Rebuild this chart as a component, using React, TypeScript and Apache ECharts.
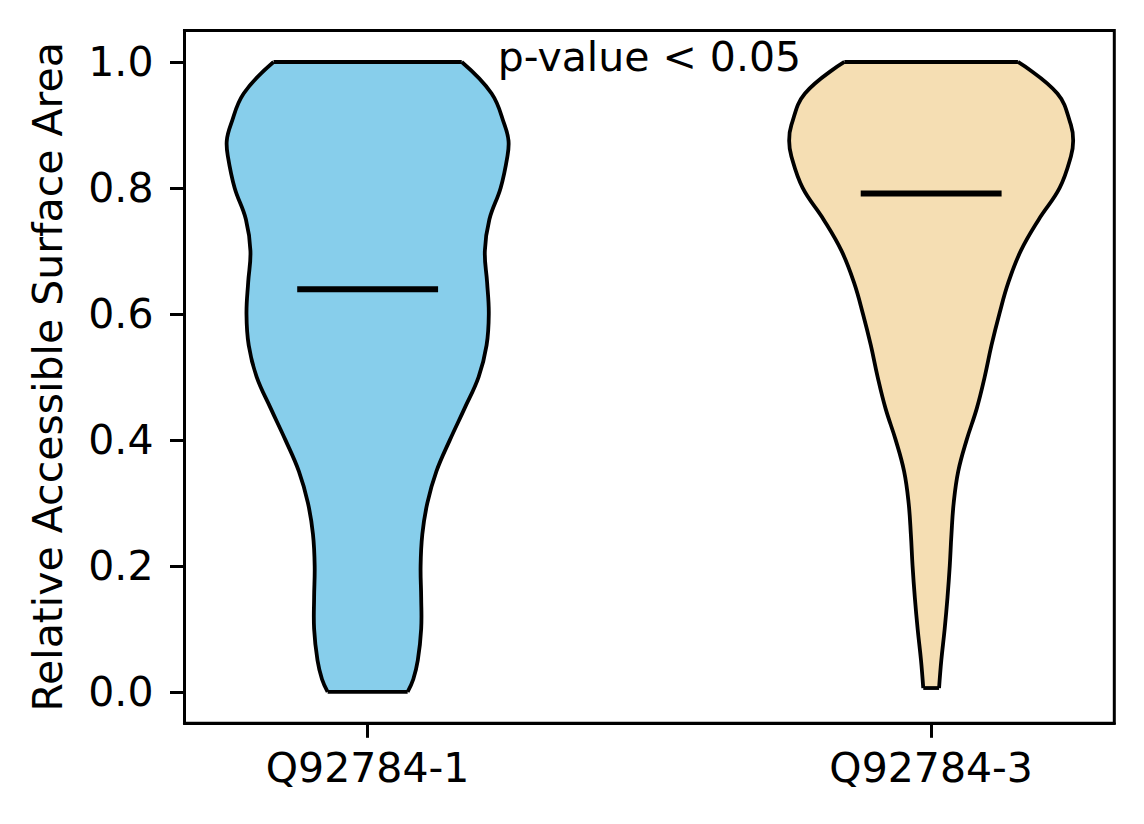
import React, { useEffect, useRef } from 'react';
import * as echarts from 'echarts';

// categories and summary values
const categories = ['Q92784-1', 'Q92784-3'];
const positions = [1, 2];
const fillColors = ['#87CEEB', '#F5DEB3'];
const medians = [0.639, 0.791];
const yTicks = [0, 0.2, 0.4, 0.6, 0.8, 1.0];
const pText = 'p-value < 0.05';

// violin outlines: RSA level -> half width (x-axis units)
const leftLevels = [0.0, 0.02, 0.05, 0.1, 0.15, 0.2, 0.25, 0.3, 0.35, 0.4, 0.45, 0.5, 0.55, 0.6, 0.65, 0.7, 0.75, 0.8, 0.85, 0.875, 0.9, 0.95, 1.0];
const leftHalfWidths = [0.071, 0.081, 0.089, 0.095, 0.095, 0.094, 0.097, 0.106, 0.122, 0.146, 0.172, 0.197, 0.211, 0.215, 0.212, 0.208, 0.216, 0.236, 0.248, 0.25, 0.243, 0.22, 0.167];

const rightLevels = [0.006, 0.05, 0.1, 0.15, 0.2, 0.25, 0.3, 0.35, 0.4, 0.45, 0.5, 0.55, 0.6, 0.65, 0.7, 0.75, 0.8, 0.85, 0.875, 0.9, 0.95, 1.0];
const rightHalfWidths = [0.014, 0.018, 0.024, 0.029, 0.033, 0.036, 0.04, 0.048, 0.063, 0.081, 0.095, 0.107, 0.121, 0.137, 0.159, 0.191, 0.228, 0.248, 0.252, 0.248, 0.224, 0.154];

const violins = [
  { levels: leftLevels, half: leftHalfWidths },
  { levels: rightLevels, half: rightHalfWidths },
];

const FONT = '"DejaVu Sans", sans-serif';
const FS = 41;
const LW = 3.0;
const EDGE = 3.8;

const App: React.FC = () => {
  const chartRef = useRef<HTMLDivElement>(null);

  useEffect(() => {
    if (!chartRef.current) return;
    const chart = echarts.init(chartRef.current, null, { renderer: 'svg' });

    const violinSeries = violins.map((v, idx) => ({
      type: 'custom',
      coordinateSystem: 'cartesian2d',
      clip: false,
      silent: true,
      data: [[positions[idx], medians[idx]]],
      renderItem: (_params: any, api: any) => {
        const pos = positions[idx];
        const leftSide = v.levels.map((y, i) => api.coord([pos - v.half[i], y]));
        const rightSide = v.levels.map((y, i) => api.coord([pos + v.half[i], y]));
        const outline = leftSide.concat(rightSide.slice().reverse());
        const n = v.levels.length - 1;
        const m0 = api.coord([pos - 0.125, medians[idx]]);
        const m1 = api.coord([pos + 0.125, medians[idx]]);
        return {
          type: 'group',
          children: [
            { type: 'polygon', shape: { points: outline }, style: { fill: fillColors[idx], stroke: null } },
            { type: 'polyline', shape: { points: leftSide, smooth: 0.4 }, style: { fill: null, stroke: '#000', lineWidth: EDGE, lineJoin: 'round' } },
            { type: 'polyline', shape: { points: rightSide, smooth: 0.4 }, style: { fill: null, stroke: '#000', lineWidth: EDGE, lineJoin: 'round' } },
            { type: 'line', shape: { x1: leftSide[0][0], y1: leftSide[0][1], x2: rightSide[0][0], y2: rightSide[0][1] }, style: { stroke: '#000', lineWidth: EDGE } },
            { type: 'line', shape: { x1: leftSide[n][0], y1: leftSide[n][1], x2: rightSide[n][0], y2: rightSide[n][1] }, style: { stroke: '#000', lineWidth: EDGE } },
            { type: 'line', shape: { x1: m0[0], y1: m0[1], x2: m1[0], y2: m1[1] }, style: { stroke: '#000', lineWidth: 6 } },
          ],
        };
      },
    }));

    const textSeries = {
      type: 'custom',
      coordinateSystem: 'cartesian2d',
      clip: false,
      silent: true,
      data: [[1.5, 1.0]],
      renderItem: (_params: any, api: any) => {
        const p = api.coord([api.value(0), api.value(1)]);
        return {
          type: 'text',
          x: p[0],
          y: p[1] - 5,
          style: {
            text: pText,
            fill: '#000',
            fontSize: FS,
            fontFamily: FONT,
            align: 'center',
            verticalAlign: 'middle',
          },
        };
      },
    };

    const axisCommon = {
      splitLine: { show: false },
      axisLine: { show: true, onZero: false, lineStyle: { color: '#000', width: LW } },
    };

    chart.setOption({
      animation: false,
      grid: {
        left: 184.5,
        right: 29.7,
        top: 30.5,
        bottom: 100.7,
        show: true,
        borderColor: '#000',
        borderWidth: LW,
        backgroundColor: 'transparent',
      },
      xAxis: {
        type: 'value',
        min: 0.675,
        max: 2.325,
        ...axisCommon,
        axisTick: { show: true, customValues: positions, length: 14.5, lineStyle: { color: '#000', width: LW } },
        axisLabel: {
          customValues: positions,
          formatter: (val: number) => categories[Math.round(val) - 1] ?? '',
          color: '#000',
          fontSize: FS,
          fontFamily: FONT,
          margin: 24,
        },
      },
      yAxis: {
        type: 'value',
        min: -0.05,
        max: 1.05,
        name: 'Relative Accessible Surface Area',
        nameLocation: 'middle',
        nameRotate: 90,
        nameGap: 116,
        nameTextStyle: { color: '#000', fontSize: FS, fontFamily: FONT },
        ...axisCommon,
        axisTick: { show: true, customValues: yTicks, length: 14.5, lineStyle: { color: '#000', width: LW } },
        axisLabel: {
          customValues: yTicks,
          formatter: (val: number) => val.toFixed(1),
          color: '#000',
          fontSize: FS,
          fontFamily: FONT,
          margin: 31,
        },
      },
      series: [...violinSeries, textSeries],
    });

    return () => {
      chart.dispose();
    };
  }, []);

  return (
    <div
      ref={chartRef}
      style={{ position: 'absolute', left: 0, top: 0, width: 1144, height: 824, background: '#fff' }}
    />
  );
};

export default App;
